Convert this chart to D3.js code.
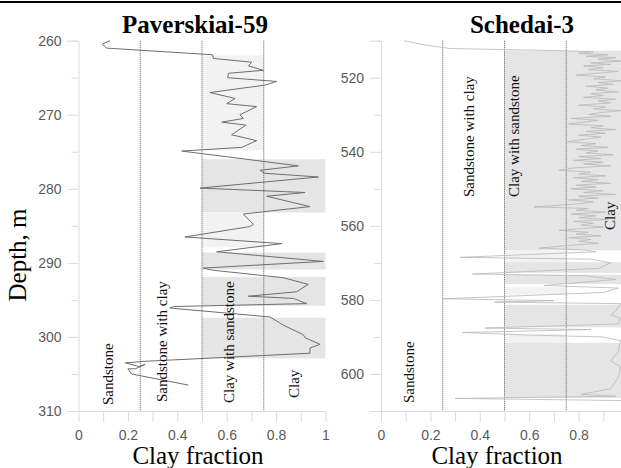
<!DOCTYPE html>
<html>
<head>
<meta charset="utf-8">
<script src="https://cdn.jsdelivr.net/npm/d3@7"></script>
<style>
  body { margin: 0; background: #fff; }
  svg { display: block; }
</style>
</head>
<body>
<svg id="chart" width="621" height="468"></svg>
<script>
// ---- Paverskiai-59 log (depth, m / clay fraction)
var pavDepth = [260.0, 260.45, 261.0, 261.9, 262.4, 262.9, 263.4, 264.0, 264.4, 265.0, 265.5, 266.0, 267.0, 267.8, 268.5, 268.9, 270.0, 270.5, 271.0, 271.4, 272.7, 273.5, 274.4, 274.9, 276.9, 277.5, 277.9, 278.4, 279.9, 280.5, 281.0, 282.4, 283.4, 284.8, 285.1, 286.5, 287.4, 288.5, 289.8, 290.7, 291.0, 292.0, 292.9, 293.9, 294.5, 294.8, 295.5, 295.9, 296.1, 297.3, 298.4, 299.7, 300.1, 301.0, 301.5, 302.2, 303.3, 303.5, 304.0, 303.7, 304.3, 304.3, 305.0, 305.2, 306.5];
var pavClay = [0.128, 0.096, 0.114, 0.543, 0.546, 0.701, 0.688, 0.748, 0.607, 0.604, 0.802, 0.755, 0.532, 0.634, 0.600, 0.721, 0.654, 0.667, 0.580, 0.678, 0.620, 0.721, 0.661, 0.418, 0.890, 0.735, 0.755, 0.971, 0.492, 0.917, 0.762, 0.937, 0.667, 0.708, 0.694, 0.431, 0.823, 0.559, 0.991, 0.505, 0.546, 0.829, 0.930, 0.883, 0.688, 0.870, 0.924, 0.384, 0.370, 0.775, 0.829, 0.910, 0.917, 0.978, 0.937, 0.937, 0.262, 0.190, 0.245, 0.270, 0.230, 0.200, 0.215, 0.245, 0.445];

// shaded intervals: top, bottom, kind (1 = clay band 0.5-1, 0 = clay-with-sandstone band 0.5-0.75)
var pavBandTop = [262.0, 276.0, 283.2, 288.6, 291.9, 297.4];
var pavBandBottom = [274.8, 283.2, 287.9, 290.9, 295.8, 302.9];
var pavBandKind = [0, 1, 0, 1, 1, 1];

// ---- Schedai-3 log
var schDepth = [510.0, 511.0, 512.1, 512.4, 512.7, 513.0, 513.4, 513.8, 514.2, 514.6, 515.0, 515.5, 516.0, 516.4, 516.8, 517.3, 517.8, 518.3, 518.8, 519.3, 519.8, 520.3, 520.8, 521.3, 521.8, 522.3, 522.8, 523.3, 523.8, 524.3, 524.8, 525.3, 525.8, 526.3, 526.8, 527.4, 527.9, 528.4, 528.9, 529.4, 529.9, 530.4, 531.0, 531.5, 532.0, 532.5, 533.0, 533.5, 534.0, 534.5, 535.0, 535.5, 536.0, 536.5, 537.3, 537.8, 538.3, 538.8, 539.3, 539.8, 540.3, 540.8, 541.3, 541.8, 542.3, 542.8, 543.3, 543.8, 544.3, 545.0, 545.5, 546.0, 546.5, 547.0, 547.5, 548.0, 548.5, 549.0, 549.5, 550.0, 550.5, 551.0, 551.5, 552.0, 552.5, 553.0, 553.5, 554.0, 554.9, 555.3, 555.8, 556.3, 556.8, 557.3, 557.8, 558.3, 558.8, 559.3, 559.8, 560.3, 561.2, 561.7, 562.2, 562.7, 563.2, 563.7, 564.2, 564.7, 565.2, 566.0, 566.5, 567.0, 568.5, 569.0, 570.0, 571.5, 573.0, 573.5, 574.5, 576.1, 576.8, 578.0, 579.7, 580.2, 580.6, 581.0, 583.0, 584.0, 585.0, 586.5, 587.6, 588.0, 588.8, 589.5, 590.0, 591.0, 594.0, 596.5, 598.0, 601.0, 604.0, 605.5, 606.0, 606.6, 607.2];
var schClay = [0.094, 0.165, 0.279, 0.502, 0.731, 0.86, 0.80, 0.92, 0.83, 0.95, 0.88, 0.97, 0.85, 0.93, 0.82, 0.90, 0.84, 0.96, 0.87, 0.79, 0.91, 0.86, 0.98, 0.88, 0.94, 0.83, 0.92, 0.87, 0.96, 0.85, 0.90, 0.82, 0.95, 0.88, 0.93, 0.80, 0.91, 0.86, 0.97, 0.89, 0.84, 0.93, 0.77, 0.88, 0.82, 0.76, 0.90, 0.85, 0.95, 0.83, 0.91, 0.80, 0.89, 0.84, 0.75, 0.87, 0.81, 0.92, 0.79, 0.88, 0.83, 0.94, 0.80, 0.89, 0.78, 0.90, 0.82, 0.93, 0.79, 0.72, 0.85, 0.80, 0.91, 0.78, 0.88, 0.81, 0.93, 0.79, 0.87, 0.77, 0.90, 0.82, 0.95, 0.80, 0.88, 0.76, 0.86, 0.81, 0.62, 0.84, 0.79, 0.91, 0.77, 0.87, 0.80, 0.92, 0.78, 0.86, 0.81, 0.90, 0.72, 0.84, 0.79, 0.89, 0.76, 0.85, 0.80, 0.88, 0.78, 0.64, 0.82, 0.87, 0.32, 0.85, 0.93, 0.88, 0.37, 0.83, 0.95, 0.66, 0.96, 0.90, 0.25, 0.70, 0.46, 0.97, 0.95, 0.93, 0.97, 0.96, 0.42, 0.85, 0.33, 0.60, 0.90, 0.97, 0.96, 0.93, 0.97, 0.96, 0.93, 0.81, 0.95, 0.30, 1.0];

var schBandTop = [512.7, 566.6, 569.8, 573.2, 576.6, 581.3, 589.2, 591.6];
var schBandBottom = [566.6, 569.8, 572.7, 575.7, 578.6, 587.4, 591.6, 606.5];
var schBandKind = [1, 0, 1, 1, 0, 1, 0, 1];

var classBreaks = [0.25, 0.5, 0.75];
var classNames = ["Sandstone", "Sandstone with clay", "Clay with sandstone", "Clay"];

var svg = d3.select("#chart");
svg.append("rect").attr("width", 621).attr("height", 468).attr("fill", "#fff");
// border line on top
svg.append("line").attr("x1", 0).attr("x2", 621).attr("y1", 2).attr("y2", 2)
  .attr("stroke", "#000").attr("stroke-width", 2);

function drawPanel(opt){
  var x = d3.scaleLinear().domain([0, 1]).range([opt.left, opt.left + 247]);
  var y = d3.scaleLinear().domain(opt.yDomain).range([40.7, 411]);
  var g = svg.append("g");

  // bands
  opt.bandTop.forEach(function(t, i){
    var k = opt.bandKind[i];
    g.append("rect")
      .attr("x", x(0.5))
      .attr("y", y(t))
      .attr("width", x(k == 1 ? 1 : 0.75) - x(0.5))
      .attr("height", y(opt.bandBottom[i]) - y(t))
      .attr("fill", k == 1 ? "#e5e5e5" : "#f2f2f2");
  });

  // axes
  var isMajor = function(d){ return Math.abs(d % opt.majorStep) < 1e-6; };
  var yAxis = d3.axisLeft(y).tickValues(d3.range(opt.yDomain[0], opt.yDomain[1] + 0.1, opt.minorStep))
    .tickSize(11).tickFormat(function(d){ return isMajor(d) ? d : ""; });
  var ya = g.append("g").attr("transform", "translate(" + opt.left + ",0)").call(yAxis);
  ya.select(".domain").attr("stroke", "#dcdcdc");
  ya.selectAll(".tick line").attr("stroke", "#dcdcdc")
    .attr("x2", function(d){ return isMajor(d) ? -11 : -7; });
  ya.selectAll(".tick text").attr("fill", "#5a5a5a").style("font-family", "Liberation Sans, Arial, sans-serif")
    .style("font-size", "14px").attr("x", -17);

  var xAxis = d3.axisBottom(x).tickValues(d3.range(0, 1.01, 0.1)).tickSize(11)
    .tickFormat(function(d){
      var r = Math.round(d * 10);
      if (x(d) > 612) return "";
      return r % 2 == 0 ? (r == 0 ? "0" : r == 10 ? "1" : d3.format(".1f")(d)) : "";
    });
  var xa = g.append("g").attr("transform", "translate(0,411)").call(xAxis);
  xa.select(".domain").attr("stroke", "#dcdcdc").attr("d", "M" + (opt.left - 11) + ",0.5H" + (opt.left + 247));
  xa.selectAll(".tick line").attr("stroke", "#dcdcdc");
  xa.selectAll(".tick text").attr("fill", "#5a5a5a").style("font-family", "Liberation Sans, Arial, sans-serif")
    .style("font-size", "14px").attr("y", 19);

  // class boundaries
  classBreaks.forEach(function(b){
    g.append("line").attr("x1", x(b)).attr("x2", x(b)).attr("y1", 40.7).attr("y2", 411)
      .attr("stroke", "#555").attr("stroke-width", 1).attr("stroke-dasharray", "1,1");
  });

  // log curve
  var line = d3.line().x(function(d){ return x(d[1]); }).y(function(d){ return y(d[0]); });
  g.append("path").datum(d3.zip(opt.depth, opt.clay))
    .attr("d", line).attr("fill", "none")
    .attr("stroke", opt.lineColor).attr("stroke-width", opt.lineWidth);

  // class labels
  opt.labels.forEach(function(l, i){
    g.append("text")
      .attr("transform", "translate(" + x(l[0]) + "," + l[1] + ") rotate(-90)")
      .style("font-family", "Liberation Serif, Times New Roman, serif")
      .style("font-size", "15px").attr("fill", "#111")
      .text(classNames[l[2]]);
  });

  // title
  svg.append("text").attr("x", opt.titleX).attr("y", 32.5).attr("text-anchor", "middle")
    .style("font-family", "Liberation Serif, Times New Roman, serif")
    .style("font-size", "25px").style("font-weight", "bold").text(opt.title);

  svg.append("text").attr("x", opt.xTitleX).attr("y", 464).attr("text-anchor", "middle")
    .style("font-family", "Liberation Serif, Times New Roman, serif")
    .style("font-size", "25px").text("Clay fraction");
}

drawPanel({
  left: 78.5, yDomain: [260, 310], minorStep: 5, majorStep: 10,
  bandTop: pavBandTop, bandBottom: pavBandBottom, bandKind: pavBandKind,
  depth: pavDepth, clay: pavClay, lineColor: "#6e6e6e", lineWidth: 1,
  labels: [[0.14, 405, 0], [0.358, 402, 1], [0.628, 403, 2], [0.893, 398, 3]],
  title: "Paverskiai-59", titleX: 195, xTitleX: 198
});

drawPanel({
  left: 381, yDomain: [510, 610], minorStep: 10, majorStep: 20,
  bandTop: schBandTop, bandBottom: schBandBottom, bandKind: schBandKind,
  depth: schDepth, clay: schClay, lineColor: "#b8b8b8", lineWidth: 0.8,
  labels: [[0.134, 403, 0], [0.376, 197, 1], [0.559, 197, 2], [0.947, 230, 3]],
  title: "Schedai-3", titleX: 522, xTitleX: 497
});

svg.append("text").attr("transform", "translate(26,255) rotate(-90)").attr("text-anchor", "middle")
  .style("font-family", "Liberation Serif, Times New Roman, serif")
  .style("font-size", "25px").text("Depth, m");
</script>
</body>
</html>
